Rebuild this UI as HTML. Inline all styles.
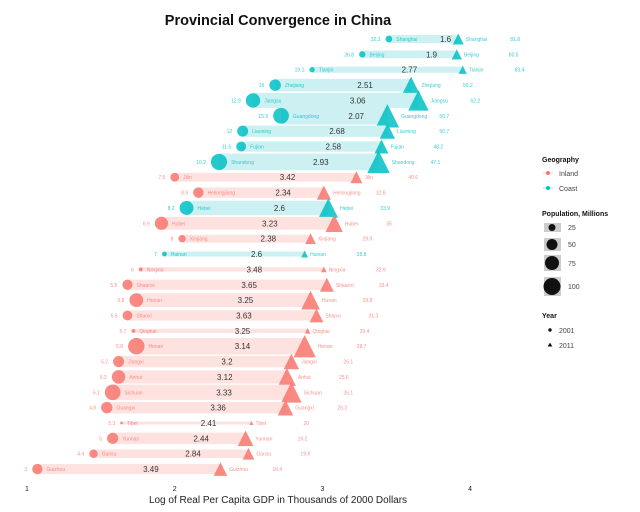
<!DOCTYPE html>
<html><head><meta charset="utf-8"><style>
body{margin:0;background:#fff;}
svg{display:block;font-family:"Liberation Sans",sans-serif;}
</style></head><body>
<svg id="chart" width="640" height="512" viewBox="0 0 640 512">
<text x="278" y="25" text-anchor="middle" font-size="14.5" font-weight="bold" fill="#111">Provincial Convergence in China</text>
<g id="plot"></g>
<g id="axis"></g>
<text x="278" y="503" text-anchor="middle" font-size="10" fill="#222">Log of Real Per Capita GDP in Thousands of 2000 Dollars</text>
<g>
<text x="542" y="162" font-size="7" font-weight="bold" fill="#111">Geography</text>
<g><line x1="543" y1="173" x2="553" y2="173" stroke="#F8766D" stroke-opacity="0.4"/><circle cx="548" cy="173" r="2" fill="#F8766D"/><text x="559" y="176" font-size="7" fill="#444">Inland</text></g>
<g><line x1="543" y1="188" x2="553" y2="188" stroke="#00BFC4" stroke-opacity="0.4"/><circle cx="548" cy="188" r="2" fill="#00BFC4"/><text x="559" y="191" font-size="7" fill="#444">Coast</text></g>
<text x="542" y="216" font-size="7" font-weight="bold" fill="#111">Population, Millions</text>
<g><rect x="544" y="223" width="17" height="9" fill="#ccc"/><circle cx="552" cy="227.5" r="3.5" fill="#111"/><text x="568" y="230" font-size="7" fill="#444">25</text></g>
<g><rect x="544" y="238" width="17" height="13" fill="#ccc"/><circle cx="552" cy="244.5" r="5.5" fill="#111"/><text x="568" y="247" font-size="7" fill="#444">50</text></g>
<g><rect x="544" y="255" width="17" height="16" fill="#ccc"/><circle cx="552" cy="263" r="7" fill="#111"/><text x="568" y="266" font-size="7" fill="#444">75</text></g>
<g><rect x="544" y="277" width="17" height="19" fill="#ccc"/><circle cx="552" cy="286.5" r="8.5" fill="#111"/><text x="568" y="289" font-size="7" fill="#444">100</text></g>
<text x="542" y="318" font-size="7" font-weight="bold" fill="#111">Year</text>
<g><circle cx="550" cy="330" r="1.7" fill="#111"/><text x="559" y="333" font-size="7" fill="#444">2001</text></g>
<g><polygon points="550,342.5 552.3,346.5 547.7,346.5" fill="#111"/><text x="559" y="348" font-size="7" fill="#444">2011</text></g>
</g>
</svg>
<script>
const provinces=["Shanghai","Beijing","Tianjin","Zhejiang","Jiangsu","Guangdong","Liaoning","Fujian","Shandong","Jilin","Heilongjiang","Hebei","Hubei","Xinjiang","Hainan","Ningxia","Shaanxi","Hunan","Shanxi","Qinghai","Henan","Jiangxi","Anhui","Sichuan","Guangxi","Tibet","Yunnan","Gansu","Guizhou"];
const coastal=[1,1,1,1,1,1,1,1,1,0,0,1,0,0,1,0,0,0,0,0,0,0,0,0,0,0,0,0,0];
const log2001=[3.45,3.27,2.93,2.68,2.53,2.72,2.46,2.45,2.30,2.00,2.16,2.08,1.91,2.05,1.93,1.77,1.68,1.74,1.68,1.72,1.74,1.62,1.62,1.58,1.54,1.64,1.58,1.45,1.07];
const log2011=[3.92,3.91,3.95,3.60,3.65,3.44,3.44,3.40,3.38,3.23,3.01,3.04,3.08,2.92,2.88,3.01,3.03,2.92,2.96,2.90,2.88,2.79,2.76,2.79,2.75,2.52,2.48,2.50,2.31];
const gdp2001=["32.3","26.8","19.1","15","12.9","15.5","12","11.6","10.2","7.5","8.9","8.2","6.9","8","7","6","5.5","5.8","5.5","5.7","5.8","5.2","5.2","5.1","4.8","5.3","5","4.4","3"];
const gdp2011=["81.8","80.5","83.4","59.2","62.2","50.7","50.7","48.2","47.1","40.6","32.8","33.9","35","29.9","28.8","32.9","33.4","29.8","31.3","29.4","28.7","26.1","25.6","26.1","25.2","20","19.2","19.6","16.4"];
const ratios=["1.6","1.9","2.77","2.51","3.06","2.07","2.68","2.58","2.93","3.42","2.34","2.6","3.23","2.38","2.6","3.48","3.65","3.25","3.63","3.25","3.14","3.2","3.12","3.33","3.36","2.41","2.44","2.84","3.49"];
const pop2001=[16,14,10,46,72,86,42,34,90,27,38,67,60,19,8,5.5,36,65,33,5,93,42,63,85,45,2.6,43,25,37];
const pop2011=[23,20,13,54,79,104,44,37,96,27,38,72,57,22,9,6,37,66,36,6,94,45,60,80,46,3,46,26,35];
const xTicks=[1,2,3,4];
const NS="http://www.w3.org/2000/svg";
const X=v=>27+(v-1)*147.7;
const Y=i=>39+i*15.36;
function mk(t,a,p){const e=document.createElementNS(NS,t);for(const k in a)e.setAttribute(k,a[k]);p.appendChild(e);return e;}
const plot=document.getElementById('plot');
provinces.forEach((p,i)=>{
  const c=coastal[i]?"#00BFC4":"#F8766D", light=coastal[i]?"#cdf1f2":"#fde2e0";
  const g=mk('g',{},plot);
  
  
  const x1=X(log2001[i]),x2=X(log2011[i]),y=Y(i);
  const r=0.85*Math.sqrt(pop2001[i]), h=1.15*Math.sqrt(pop2011[i]), bh=1.7*Math.sqrt(pop2011[i]);
  const bar=mk('rect',{x:x1,y:y-bh/2,width:x2-x1,height:bh,fill:light},g);
  
  
  const tri=mk('polygon',{points:`${x2},${y-h} ${x2+h},${y+h} ${x2-h},${y+h}`,fill:c,'fill-opacity':0.85},g);
  
  
  const cir=mk('circle',{cx:x1,cy:y,r:r,fill:c,'fill-opacity':0.85},g);
  
  
  const t1=mk('text',{x:x1-r-5,y:y+2,'text-anchor':'end','font-size':5,fill:c,'fill-opacity':0.8},g);t1.textContent=gdp2001[i];
  
  
  const t2=mk('text',{x:x1+r+4,y:y+2,'font-size':5,fill:c,'fill-opacity':0.8},g);t2.textContent=p;
  
  
  const t3=mk('text',{x:(x1+x2)/2+22,y:y+3,'text-anchor':'middle','font-size':8,fill:'#333'},g);t3.textContent=ratios[i];
  
  
  const t4=mk('text',{x:x2+h+2,y:y+2,'font-size':5,fill:c,'fill-opacity':0.8},g);t4.textContent=p;
  
  
  const t5=mk('text',{x:x2+52,y:y+2,'font-size':5,fill:c,'fill-opacity':0.8},g);t5.textContent=gdp2011[i];
  
  
});
const ax=document.getElementById('axis');
xTicks.forEach(v=>{
  const t=mk('text',{x:X(v),y:491,'text-anchor':'middle','font-size':7,fill:'#222'},ax);t.textContent=v;
  
  
});
</script>
</body></html>
